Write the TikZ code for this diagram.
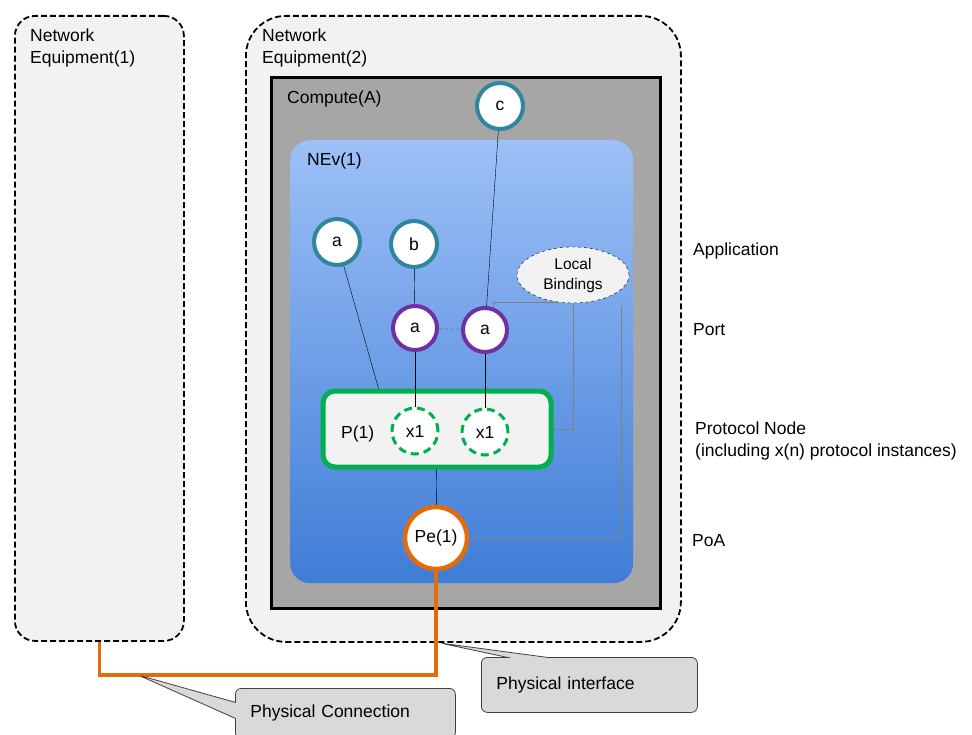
\documentclass[tikz,border=0pt]{standalone}
\usepackage{fontspec}
\setmainfont{Liberation Sans}
\usetikzlibrary{shapes.geometric,shapes.callouts}

\definecolor{boxgray}{HTML}{F2F2F2}
\definecolor{computegray}{HTML}{A6A6A6}
\definecolor{appteal}{HTML}{31859C}
\definecolor{portpurple}{HTML}{7030A0}
\definecolor{protogreen}{HTML}{00B050}
\definecolor{poaorange}{HTML}{E36C09}
\definecolor{nevtop}{HTML}{9DC0F7}
\definecolor{nevbottom}{HTML}{3F7DD6}
\definecolor{calloutgray}{HTML}{D9D9D9}

\tikzset{
  equip/.style={draw=black, dash pattern=on 6pt off 3pt, line width=1.8pt, fill=boxgray, anchor=north west},
  app/.style={circle, draw=appteal, line width=4pt, fill=white, minimum size=46pt, inner sep=0pt},
  port/.style={circle, draw=portpurple, line width=4pt, fill=white, minimum size=44pt, inner sep=0pt},
  inst/.style={circle, draw=protogreen, line width=3pt, dash pattern=on 8pt off 5pt, fill=white, minimum size=46pt, inner sep=0pt},
  bind/.style={draw=gray, line width=0.8pt},
  phys/.style={draw=poaorange, line width=3.5pt},
  note/.style={rectangle callout, draw=black!75, fill=calloutgray, rounded corners=6pt, line width=0.8pt, align=left, inner xsep=15pt, anchor=north west},
  lbl/.style={anchor=base west, align=left, inner sep=0pt},
}

\begin{document}
\begin{tikzpicture}[x=1pt, y=-1pt, font=\fontsize{17.5}{22}\selectfont]
  \useasboundingbox (0,0) rectangle (972,735);
  \clip (0,0) rectangle (972,735);

  \node[equip, rounded corners=20pt, minimum width=169, minimum height=625] (ne1) at (14,15) {};
  \node[equip, rounded corners=40pt, minimum width=435, minimum height=626] (ne2) at (245,15) {};
  \node[lbl] (ne1lbl) at (30,64) {Network\\Equipment(1)};
  \node[lbl] (ne2lbl) at (262,64) {Network\\Equipment(2)};

  \node[draw=black, line width=3pt, fill=computegray, minimum width=389, minimum height=531, anchor=north west] (compute) at (270,76) {};
  \node[lbl] (computelbl) at (287,104) {Compute(A)};
  \node[top color=nevtop, bottom color=nevbottom, rounded corners=20pt, minimum width=343, minimum height=443, anchor=north west] (nev) at (290,140) {};
  \node[lbl] (nevlbl) at (307,166) {NEv(1)};

  \node[app] (c) at (500,106) {c};
  \node[app] (appa) at (337,242) {a};
  \node[app] (appb) at (414,244) {b};
  \node[ellipse, draw, dashed, fill=boxgray, minimum width=112, minimum height=56, align=center, inner sep=0pt, font=\fontsize{15.5}{20}\selectfont] (lb) at (573,275) {Local\\Bindings};
  \node[port] (porta1) at (415,328) {a};
  \node[port] (porta2) at (485,330) {a};
  \node[draw=protogreen, line width=5pt, fill=boxgray, rounded corners=12pt, minimum width=228, minimum height=76] (pnode) at (437,429) {};
  \node[lbl] (plbl) at (341,438) {P(1)};
  \node[inst] (xa) at (415,431) {x1};
  \node[inst] (xb) at (485,432) {x1};
  \node[circle, draw=poaorange, line width=4.5pt, fill=white, minimum size=62pt, inner sep=0pt] (pe) at (436,538) {Pe(1)};

  \draw (c) -- (porta2);
  \draw (appb) -- (porta1);
  \draw (appa) -- ([xshift=58pt]pnode.north west);
  \draw (porta1) -- (xa);
  \draw (porta2) -- (xb);
  \draw (pnode) -- (pe);

  \draw[bind, dashed] (porta1) -- (porta2);
  \draw[bind] (porta2.70) |- (lb.243);
  \draw[bind] (lb.south) |- (pnode.east);
  \draw[bind] ([yshift=-16pt]lb.-17) |- (pe.east);

  \coordinate (bend) at (436,675);
  \draw[phys] (pe.south) -- (bend) -| (ne1.south);

  \coordinate (pctip) at (138,675);
  \coordinate (pitip) at (440,643);
  \node[note, callout absolute pointer=(pctip), callout pointer width=16pt, text width=190pt, minimum height=50pt] (pcnote) at (235,688) {Physical Connection};
  \node[note, callout absolute pointer=(pitip), callout pointer width=40pt, text width=186pt, minimum height=55pt] (pinote) at (481,657) {Physical interface};

  \node[lbl] (applbl) at (693,256) {Application};
  \node[lbl] (portlbl) at (693,335) {Port};
  \node[lbl] (protolbl) at (695,456) {Protocol Node\\(including x(n) protocol instances)};
  \node[lbl] (poalbl) at (692,546) {PoA};
\end{tikzpicture}
\end{document}
